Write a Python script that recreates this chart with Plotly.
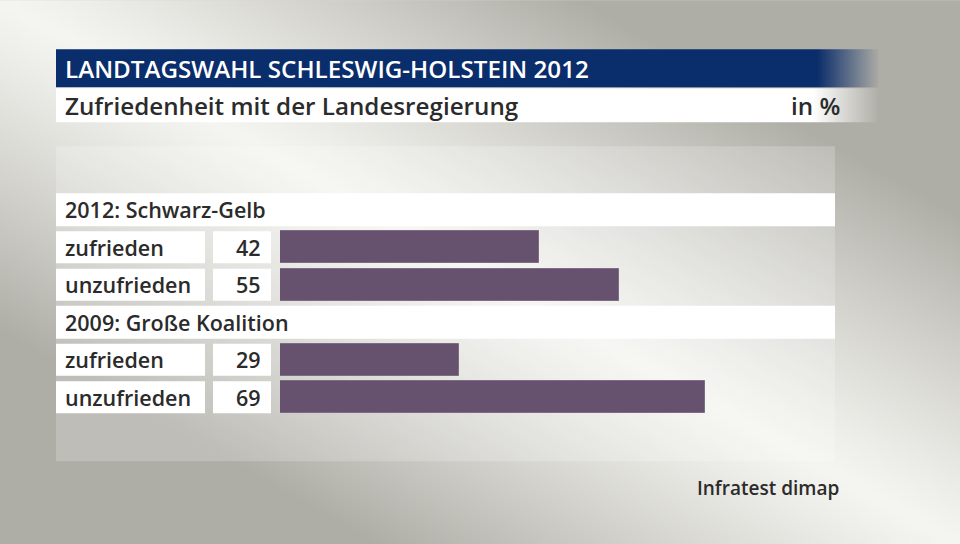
import base64, struct, zlib
import numpy as np
import plotly.graph_objects as go

# ---------------- data ----------------
groups = ["2012: Schwarz-Gelb", "2009: Große Koalition"]
answers = ["zufrieden", "unzufrieden"]
values_2012 = [42, 55]
values_2009 = [29, 69]
title = "LANDTAGSWAHL SCHLESWIG-HOLSTEIN 2012"
subtitle = "Zufriedenheit mit der Landesregierung"
unit = "in %"
source = "Infratest dimap"

W, H = 960, 544
PL, PR = 280, 835          # plot area in px (x)
XMAX = 90.1
PT, PB = 190.75, 415.75    # plot area in px (y)
PW, PH = PR - PL, PB - PT

def fx(px):
    return (px - PL) / PW

def fy(py):
    return (PB - py) / PH

def png_uri(img):
    h, w, c = img.shape
    ctype = 6 if c == 4 else 2
    raw = b"".join(b"\x00" + img[r].tobytes() for r in range(h))

    def chunk(tag, data):
        cc = struct.pack(">I", len(data)) + tag + data
        return cc + struct.pack(">I", zlib.crc32(tag + data) & 0xFFFFFFFF)

    png = b"\x89PNG\r\n\x1a\n"
    png += chunk(b"IHDR", struct.pack(">IIBBBBB", w, h, 8, ctype, 0, 0, 0))
    png += chunk(b"IDAT", zlib.compress(raw, 9))
    png += chunk(b"IEND", b"")
    return "data:image/png;base64," + base64.b64encode(png).decode()

# ---------------- background gradient image ----------------
def make_bg(w=240, h=136):
    ys, xs = np.mgrid[0:h, 0:w].astype(float)
    X = xs * (W / w)
    Y = ys * (H / h)
    ux, uy = 960 / np.hypot(960, 544), 544 / np.hypot(960, 544)
    d = np.abs(X * uy - Y * ux)
    t = np.clip(d / 290.0, 0, 1) ** 1.2
    light = np.array([245, 245, 241.0])
    dark = np.array([174, 173, 166.0])
    img = light[None, None, :] + (dark - light)[None, None, :] * t[..., None]
    return png_uri(img.astype(np.uint8))

def make_fade(rgb, n=64):
    a = np.linspace(255, 0, n)
    img = np.zeros((1, n, 4), dtype=np.uint8)
    img[0, :, 0], img[0, :, 1], img[0, :, 2] = rgb
    img[0, :, 3] = a.astype(np.uint8)
    return png_uri(img)

# ---------------- rows ----------------
rows = []  # (kind, label, value)
for g, vals in zip(groups, [values_2012, values_2009]):
    rows.append(("header", g, None))
    for a, v in zip(answers, vals):
        rows.append(("bar", a, v))
ypos = list(range(len(rows)))

bar_y = [y for y, r in zip(ypos, rows) if r[0] == "bar"]
bar_x = [r[2] for r in rows if r[0] == "bar"]

TXT = "#2b2b2b"
FONT = "Open Sans"
TX = 62.5

fig = go.Figure()
fig.add_trace(go.Bar(
    x=bar_x, y=bar_y, orientation="h", width=0.853,
    marker=dict(color="#66526f", line=dict(color="#7d6c86", width=1)),
    hoverinfo="skip", showlegend=False,
))

shapes = []
annotations = []
images = [dict(source=make_bg(), xref="paper", yref="paper",
               x=fx(0), y=fy(0), sizex=W / PW, sizey=H / PH,
               xanchor="left", yanchor="top", sizing="stretch", layer="below")]

# chart panel
shapes.append(dict(type="rect", xref="paper", yref="paper",
                   x0=fx(56), x1=fx(835), y0=fy(146), y1=fy(461),
                   fillcolor="rgba(255,255,255,0.2)", line=dict(width=0), layer="below"))

def faded_bar(y0, y1, rgb, solid_end, fade_end):
    shapes.append(dict(type="rect", xref="paper", yref="paper",
                       x0=fx(56), x1=fx(solid_end), y0=fy(y1), y1=fy(y0),
                       fillcolor="rgb(%d,%d,%d)" % rgb, line=dict(width=0), layer="below"))
    images.append(dict(source=make_fade(rgb), xref="paper", yref="paper",
                       x=fx(solid_end), y=fy(y0), sizex=(fade_end - solid_end) / PW,
                       sizey=(y1 - y0) / PH, xanchor="left", yanchor="top",
                       sizing="stretch", layer="above"))

faded_bar(49, 87, (10, 45, 107), 817, 880)
faded_bar(88, 122, (255, 255, 255), 812, 880)

annotations.append(dict(text=title, xref="paper", yref="paper", x=fx(TX), y=fy(68.5),
                        xanchor="left", yanchor="middle", showarrow=False,
                        font=dict(family=FONT, size=24.2, color="white", weight=600)))
annotations.append(dict(text=subtitle, xref="paper", yref="paper", x=fx(TX), y=fy(105),
                        xanchor="left", yanchor="middle", showarrow=False,
                        font=dict(family=FONT, size=24.2, color=TXT, weight=600)))
annotations.append(dict(text=unit, xref="paper", yref="paper", x=fx(842), y=fy(105),
                        xanchor="right", yanchor="middle", showarrow=False,
                        font=dict(family=FONT, size=24.2, color=TXT, weight=600)))
annotations.append(dict(text=source, xref="paper", yref="paper", x=fx(841), y=fy(488),
                        xanchor="right", yanchor="middle", showarrow=False,
                        font=dict(family=FONT, size=19, color=TXT, weight=600)))

for y, (kind, label, v) in zip(ypos, rows):
    if kind == "header":
        shapes.append(dict(type="rect", xref="paper", yref="y",
                           x0=fx(56), x1=fx(835), y0=y - 0.44, y1=y + 0.44,
                           fillcolor="white", line=dict(width=0), layer="below"))
        annotations.append(dict(text=label, xref="paper", yref="y", x=fx(TX), y=y,
                                xanchor="left", yanchor="middle", showarrow=False,
                                font=dict(family=FONT, size=21.5, color=TXT, weight=600)))
    else:
        shapes.append(dict(type="rect", xref="paper", yref="y",
                           x0=fx(56), x1=fx(205), y0=y - 0.4265, y1=y + 0.4265,
                           fillcolor="white", line=dict(width=0), layer="below"))
        shapes.append(dict(type="rect", xref="paper", yref="y",
                           x0=fx(213), x1=fx(271), y0=y - 0.4265, y1=y + 0.4265,
                           fillcolor="white", line=dict(width=0), layer="below"))
        annotations.append(dict(text=label, xref="paper", yref="y", x=fx(TX), y=y,
                                xanchor="left", yanchor="middle", showarrow=False,
                                font=dict(family=FONT, size=21.5, color=TXT, weight=600)))
        annotations.append(dict(text=str(v), xref="paper", yref="y", x=fx(263), y=y,
                                xanchor="right", yanchor="middle", showarrow=False,
                                font=dict(family=FONT, size=21.5, color=TXT, weight=600)))

fig.update_layout(
    width=W, height=H,
    margin=dict(l=PL, r=W - PR, t=PT, b=H - PB, pad=0),
    paper_bgcolor="#d6d6d0",
    plot_bgcolor="rgba(0,0,0,0)",
    xaxis=dict(range=[0, XMAX], visible=False, fixedrange=True),
    yaxis=dict(range=[len(rows) - 0.5, -0.5], visible=False, fixedrange=True),
    shapes=shapes,
    annotations=annotations,
    images=images,
    bargap=0,
)

fig.write_html("out.html", config={"displayModeBar": False},
               post_script="document.body.style.margin='0';document.body.style.padding='0';")
